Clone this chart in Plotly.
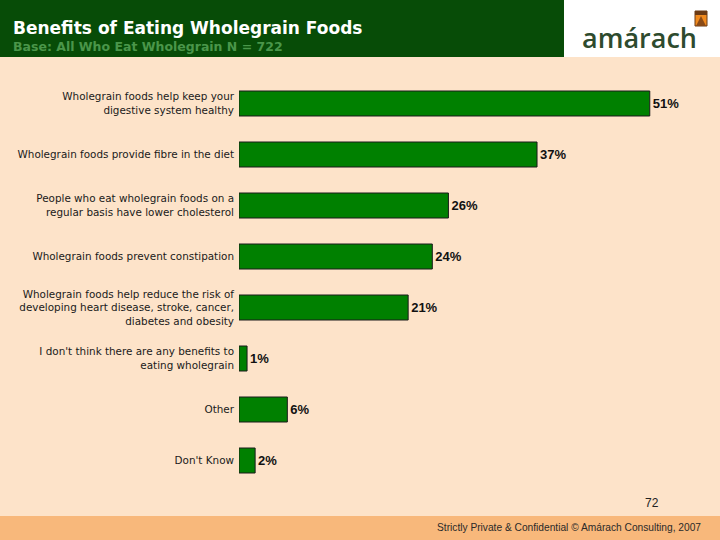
import plotly.graph_objects as go

categories = [
    "Wholegrain foods help keep your<br>digestive system healthy",
    "Wholegrain foods provide fibre in the diet",
    "People who eat wholegrain foods on a<br>regular basis have lower cholesterol",
    "Wholegrain foods prevent constipation",
    "Wholegrain foods help reduce the risk of<br>developing heart disease, stroke, cancer,<br>diabetes and obesity",
    "I don't think there are any benefits to<br>eating wholegrain",
    "Other",
    "Don't Know",
]
values = [51, 37, 26, 24, 21, 1, 6, 2]
value_labels = [f"{v}%" for v in values]

title = "Benefits of Eating Wholegrain Foods"
subtitle = "Base: All Who Eat Wholegrain N = 722"
footer = "Strictly Private &amp; Confidential © Amárach Consulting, 2007"
page_no = "72"
logo = "amárach"

W, H = 720, 540
ML, MR, MT, MB = 239, 38, 78, 54
PW, PH = W - ML - MR, H - MT - MB


def px(x):
    return (x - ML) / PW


def py(y):
    return (H - MB - y) / PH


fig = go.Figure(go.Bar(
    x=values, y=categories, orientation="h",
    marker=dict(color="#008000", line=dict(color="#1a1a1a", width=1)),
    text=value_labels, textposition="outside",
    textfont=dict(family="Liberation Sans, Arial", size=13, color="#111111", weight="bold"),
    cliponaxis=False, hoverinfo="skip",
))

shapes = [
    dict(type="rect", xref="paper", yref="paper", x0=px(0), x1=px(564), y0=py(57), y1=py(0),
         fillcolor="#074C07", line=dict(width=0), layer="below"),
    dict(type="rect", xref="paper", yref="paper", x0=px(564), x1=px(720), y0=py(57), y1=py(0),
         fillcolor="#FFFFFF", line=dict(width=0), layer="below"),
    dict(type="rect", xref="paper", yref="paper", x0=px(0), x1=px(720), y0=py(540), y1=py(516),
         fillcolor="#F8B87B", line=dict(width=0), layer="below"),
    dict(type="rect", xref="paper", yref="paper", x0=px(695), x1=px(707), y0=py(26), y1=py(11),
         fillcolor="#F08A1E", line=dict(color="#6B3A14", width=1)),
    dict(type="rect", xref="paper", yref="paper", x0=px(695), x1=px(707), y0=py(15), y1=py(11),
         fillcolor="#6B3A14", line=dict(width=0)),
    dict(type="path", xref="paper", yref="paper",
         path=f"M {px(696)} {py(26)} L {px(706)} {py(26)} L {px(701)} {py(16)} Z",
         fillcolor="#8A4A16", line=dict(width=0)),
]

annotations = [
    dict(text=f"<b>{title}</b>", x=px(11), y=py(28), xref="paper", yref="paper",
         xanchor="left", yanchor="middle", showarrow=False,
         font=dict(family="DejaVu Sans", size=17, color="#FFFFFF")),
    dict(text=f"<b>{subtitle}</b>", x=px(11), y=py(46), xref="paper", yref="paper",
         xanchor="left", yanchor="middle", showarrow=False,
         font=dict(family="DejaVu Sans", size=12.5, color="#4A964A")),
    dict(text=logo, x=px(580), y=py(38), xref="paper", yref="paper",
         xanchor="left", yanchor="middle", showarrow=False,
         font=dict(family="Open Sans", size=27, color="#2E4B2E", weight=600)),
    dict(text=page_no, x=px(652), y=py(503), xref="paper", yref="paper",
         xanchor="center", yanchor="middle", showarrow=False,
         font=dict(family="Liberation Sans, Arial", size=12, color="#222222")),
    dict(text=footer, x=px(703), y=py(527), xref="paper", yref="paper",
         xanchor="right", yanchor="middle", showarrow=False,
         font=dict(family="Liberation Sans, Arial", size=10.2, color="#2a2a2a")),
]

fig.update_layout(
    width=W, height=H,
    margin=dict(l=ML, r=MR, t=MT, b=MB, pad=0),
    paper_bgcolor="#FDE3C9", plot_bgcolor="rgba(0,0,0,0)",
    bargap=0.51, showlegend=False,
    shapes=shapes, annotations=annotations,
    xaxis=dict(range=[0, 55], visible=False, fixedrange=True),
    yaxis=dict(categoryorder="array", categoryarray=categories, range=[7.5, -0.5],
               showgrid=False, zeroline=False, showline=False, ticks="",
               tickfont=dict(family="DejaVu Sans", size=10.4, color="#1a1a1a"),
               ticklabelstandoff=4, fixedrange=True),
)

fig.write_html(
    "out.html",
    config={"displayModeBar": False},
    post_script="document.body.style.margin='0';document.body.style.overflow='hidden';",
)
